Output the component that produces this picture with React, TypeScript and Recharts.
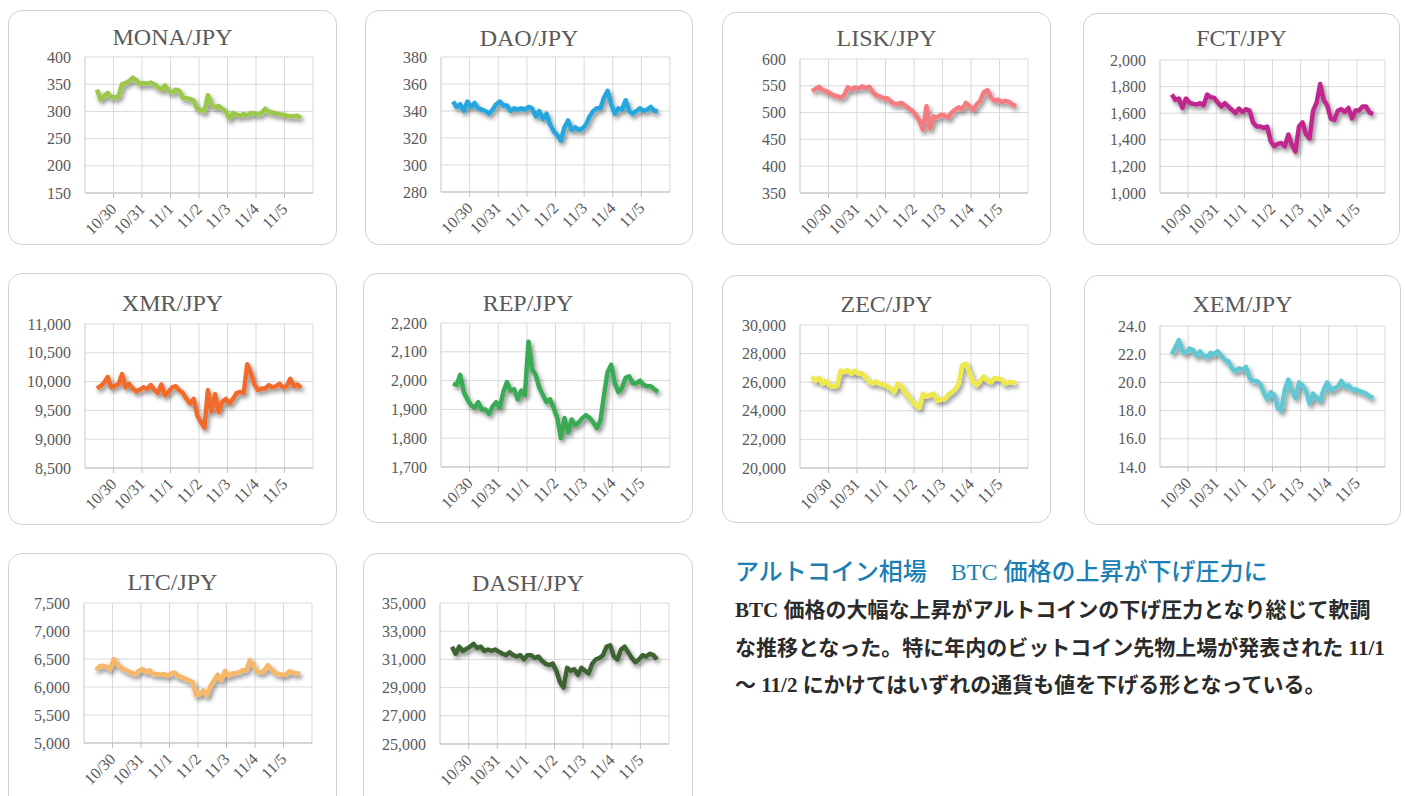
import React from "react";
import { LineChart, Line, XAxis, YAxis, CartesianGrid } from "recharts";

// time axis: days since 10/29 00:00, one sample every ~3h
const T_START = 0.42;
const T_STEP = 0.1256;
const DAY_TICKS = [1, 2, 3, 4, 5, 6, 7];
const DAY_LABELS = ["10/30", "10/31", "11/1", "11/2", "11/3", "11/4", "11/5"];

const MONA = [340, 322, 328, 334, 326, 326, 327, 350, 352, 356, 362, 357, 350, 352, 351, 353, 350, 345, 340, 348, 338, 335, 340, 338, 325, 324, 323, 320, 305, 303, 300, 330, 312, 308, 310, 305, 300, 287, 297, 294, 292, 295, 293, 297, 296, 295, 297, 305, 299, 298, 296, 295, 294, 292, 291, 291, 292, 288];
const DAO = [347, 343, 345, 340, 347, 343, 346, 342, 341, 340, 338, 341, 345, 347, 344, 344, 340, 342, 341, 342, 341, 343, 342, 336, 340, 334, 338, 330, 325, 322, 318, 328, 333, 326, 328, 326, 327, 330, 336, 340, 342, 342, 350, 355, 345, 338, 342, 341, 348, 340, 338, 340, 342, 340, 341, 343, 340, 340];
const LISK = [540, 544, 548, 542, 540, 536, 532, 531, 528, 532, 547, 543, 547, 545, 549, 546, 548, 538, 532, 530, 527, 527, 521, 516, 516, 518, 513, 508, 503, 496, 485, 468, 512, 470, 493, 491, 496, 495, 490, 500, 505, 510, 506, 518, 512, 505, 515, 522, 538, 542, 528, 522, 524, 520, 522, 520, 515, 512];
const FCT = [1740, 1700, 1710, 1640, 1710, 1680, 1670, 1665, 1675, 1660, 1740, 1720, 1715, 1680, 1650, 1675, 1650, 1625, 1600, 1635, 1610, 1630, 1620, 1530, 1500, 1500, 1490, 1500, 1390, 1350, 1370, 1375, 1350, 1440, 1360, 1310, 1500, 1530, 1440, 1410, 1620, 1680, 1820, 1700, 1660, 1560, 1550, 1620, 1630, 1610, 1640, 1560, 1620, 1620, 1650, 1650, 1605, 1595];
const XMR = [9880, 9920, 9980, 10080, 9900, 9930, 9950, 10130, 9900, 9960, 9880, 9830, 9860, 9900, 9870, 9940, 9860, 9800, 9950, 9760, 9820, 9900, 9920, 9850, 9800, 9700, 9620, 9700, 9420, 9300, 9200, 9850, 9480, 9780, 9470, 9650, 9700, 9620, 9700, 9800, 9820, 9800, 10300, 10150, 9950, 9850, 9880, 9880, 9940, 9900, 9920, 9960, 9900, 9920, 10050, 9920, 9950, 9890];
const REP = [1990, 1985, 2020, 1960, 1935, 1915, 1905, 1925, 1900, 1900, 1885, 1910, 1925, 1905, 1960, 1995, 1965, 1970, 1935, 1965, 1950, 2135, 2040, 2020, 1975, 1950, 1925, 1935, 1905, 1870, 1800, 1870, 1820, 1865, 1845, 1855, 1870, 1880, 1870, 1855, 1835, 1860, 1950, 2030, 2055, 1990, 1960, 1975, 2010, 2015, 1990, 1990, 2000, 1985, 1980, 1980, 1970, 1960];
const ZEC = [26400, 26100, 26300, 25900, 26100, 25750, 25700, 25750, 26800, 26700, 26850, 26600, 26800, 26600, 26600, 26350, 26050, 25900, 26050, 25850, 25850, 25700, 25550, 25300, 25900, 25700, 25300, 25000, 24650, 24400, 24200, 25200, 25000, 25100, 25200, 24700, 24800, 24800, 25100, 25300, 25500, 25900, 27200, 27300, 26700, 26000, 25800, 26100, 26400, 26100, 26000, 26300, 26250, 26200, 25900, 26000, 26000, 25900];
const XEM = [22.0, 22.5, 23.0, 22.2, 22.1, 22.4, 22.3, 21.9, 22.2, 21.9, 21.8, 22.1, 22.0, 22.2, 21.9, 21.6, 21.5, 21.0, 20.8, 21.0, 20.9, 21.1, 20.3, 20.1, 20.1, 19.9, 19.3, 18.8, 19.3, 19.1, 18.2, 18.0, 19.5, 20.2, 19.4, 18.9, 20.0, 19.8, 19.4, 18.5, 19.2, 18.9, 18.7, 19.5, 20.0, 19.4, 19.6, 19.7, 20.1, 19.7, 19.8, 19.5, 19.5, 19.4, 19.3, 19.2, 19.0, 18.9];
const LTC = [6300, 6370, 6380, 6360, 6320, 6500, 6400, 6350, 6310, 6280, 6250, 6230, 6290, 6320, 6270, 6300, 6230, 6230, 6220, 6230, 6200, 6240, 6260, 6190, 6180, 6140, 6120, 6090, 5850, 5870, 5940, 5850, 6020, 6120, 6220, 6120, 6290, 6200, 6240, 6250, 6260, 6300, 6300, 6480, 6380, 6280, 6260, 6290, 6390, 6320, 6260, 6230, 6220, 6220, 6280, 6260, 6240, 6240];
const DASH = [31900, 31400, 31900, 31600, 31750, 31900, 32100, 31800, 31900, 31600, 31700, 31600, 31700, 31550, 31400, 31300, 31500, 31300, 31200, 31300, 31000, 31300, 31300, 31100, 31200, 30900, 30700, 30600, 30700, 30200, 29400, 29000, 30400, 30200, 30300, 29900, 30400, 30200, 30000, 30700, 31000, 31100, 31300, 31900, 32000, 31200, 31000, 31700, 31900, 31500, 31100, 30800, 31000, 31300, 31200, 31400, 31300, 31000];

const MONA_TICKS = [150, 200, 250, 300, 350, 400];
const DAO_TICKS = [280, 300, 320, 340, 360, 380];
const LISK_TICKS = [350, 400, 450, 500, 550, 600];
const FCT_TICKS = [1000, 1200, 1400, 1600, 1800, 2000];
const XMR_TICKS = [8500, 9000, 9500, 10000, 10500, 11000];
const REP_TICKS = [1700, 1800, 1900, 2000, 2100, 2200];
const ZEC_TICKS = [20000, 22000, 24000, 26000, 28000, 30000];
const XEM_TICKS = [14, 16, 18, 20, 22, 24];
const LTC_TICKS = [5000, 5500, 6000, 6500, 7000, 7500];
const DASH_TICKS = [25000, 27000, 29000, 31000, 33000, 35000];

const SERIF = "'Liberation Serif', 'Times New Roman', serif";
const JP = "'Liberation Serif', 'Noto Sans CJK JP', serif";
const GRID = "#d9d9d9";
const AXIS = "#bfbfbf";
const TEXT = "#595959";

const PANELS = [
	{ title: "MONA/JPY", values: MONA, ticks: MONA_TICKS, color: "#9bc848", box: [8, 10, 337, 245], plot: [85, 313, 57, 193], titleY: 45 },
	{ title: "DAO/JPY", values: DAO, ticks: DAO_TICKS, color: "#27a6de", box: [365, 10, 693, 245], plot: [441, 670, 57, 192], titleY: 46 },
	{ title: "LISK/JPY", values: LISK, ticks: LISK_TICKS, color: "#f47c80", box: [722, 12, 1051, 245], plot: [800, 1028, 59, 193], titleY: 46 },
	{ title: "FCT/JPY", values: FCT, ticks: FCT_TICKS, color: "#c1288e", box: [1083, 13, 1400, 245], plot: [1160, 1385, 60, 193], titleY: 46 },
	{ title: "XMR/JPY", values: XMR, ticks: XMR_TICKS, color: "#f26a2c", box: [8, 273, 337, 525], plot: [85, 313, 324, 468], titleY: 311 },
	{ title: "REP/JPY", values: REP, ticks: REP_TICKS, color: "#3aaa55", box: [363, 273, 693, 523], plot: [441, 670, 323, 467], titleY: 311 },
	{ title: "ZEC/JPY", values: ZEC, ticks: ZEC_TICKS, color: "#eee94a", box: [722, 275, 1051, 523], plot: [800, 1028, 325, 468], titleY: 312 },
	{ title: "XEM/JPY", values: XEM, ticks: XEM_TICKS, color: "#5ec8d4", box: [1084, 275, 1401, 525], plot: [1160, 1385, 326, 467], titleY: 312, decimals: 1 },
	{ title: "LTC/JPY", values: LTC, ticks: LTC_TICKS, color: "#f7b768", box: [8, 553, 337, 820], plot: [84, 312, 603, 743], titleY: 590 },
	{ title: "DASH/JPY", values: DASH, ticks: DASH_TICKS, color: "#3d6433", box: [363, 553, 693, 820], plot: [440, 669, 603, 744], titleY: 591 },
];

function DayTick({ x, y, payload }: any) {
	return (
		<g transform={`translate(${x + 4},${y + 12})`}>
			<text textAnchor="end"
			      transform="rotate(-45)"
			      fontSize={16}
			      fontFamily={SERIF}
			      fill={TEXT}>
				{DAY_LABELS[payload.value - 1]}
			</text>
		</g>
	);
}

function Panel({ p }: { p: (typeof PANELS)[number] }) {
	const [bl, bt, br, bb] = p.box;
	const [pl, pr, pt, pb] = p.plot;
	const yw = 70;
	const w = yw + (pr - pl) + 10;
	const h = (pb - pt) + 10 + 50;
	const rows = p.values.map((v, i) => ({ t: T_START + i * T_STEP, v }));
	const fmt = (v: number) => (p.decimals ? v.toFixed(p.decimals) : v.toLocaleString("en-US"));

	return (
		<>
			<div style={{
				position: "absolute",
				left: bl,
				top: bt,
				width: br - bl,
				height: bb - bt,
				boxSizing: "border-box",
				border: "1.5px solid #d2d2d2",
				borderRadius: 14,
				background: "#fff",
			}} />
			<div style={{
				position: "absolute",
				left: bl,
				width: br - bl,
				top: p.titleY - 20,
				height: 24,
				lineHeight: "24px",
				textAlign: "center",
				fontFamily: SERIF,
				fontSize: 24,
				color: TEXT,
			}}>
				{p.title}
			</div>
			<div style={{ position: "absolute", left: pl - yw, top: pt - 10 }}>
				<LineChart width={w}
				           height={h}
				           data={rows}
				           margin={{ top: 10, right: 10, left: 0, bottom: 0 }}>
					<CartesianGrid stroke={GRID} />
					<XAxis type="number"
					       dataKey="t"
					       domain={[0, 8]}
					       ticks={DAY_TICKS}
					       interval={0}
					       height={50}
					       tickSize={5}
					       tickMargin={0}
					       axisLine={{ stroke: AXIS }}
					       tickLine={{ stroke: AXIS }}
					       tick={<DayTick />} />
					<YAxis type="number"
					       domain={[p.ticks[0], p.ticks[p.ticks.length - 1]]}
					       ticks={p.ticks}
					       interval={0}
					       width={yw}
					       tickSize={6}
					       tickMargin={8}
					       tickLine={false}
					       axisLine={{ stroke: GRID }}
					       tickFormatter={fmt}
					       tick={{ fontSize: 16, fontFamily: SERIF, fill: TEXT }} />
					<Line dataKey="v"
					      type="linear"
					      stroke={p.color}
					      strokeWidth={4.5}
					      strokeLinejoin="round"
					      dot={false}
					      isAnimationActive={false} />
				</LineChart>
			</div>
		</>
	);
}

export default function App() {
	return (
		<div style={{ position: "absolute", left: 0, top: 0, width: 1405, height: 796, overflow: "hidden", background: "#fff" }}>
			<style>{`.recharts-line-curve { filter: url(#lineShadow); }`}</style>
			<svg width={0} height={0} style={{ position: "absolute" }}>
				<defs>
					<filter id="lineShadow" filterUnits="userSpaceOnUse" x={-50} y={-50} width={1000} height={1000}>
						<feDropShadow dx={2} dy={3} stdDeviation={2} floodColor="#000" floodOpacity={0.45} />
					</filter>
				</defs>
			</svg>

			{PANELS.map((p) => <Panel key={p.title} p={p} />)}

			<div style={{ position: "absolute", left: 735, top: 557, height: 30, lineHeight: "30px", fontFamily: JP, fontSize: 24, fontWeight: 500, color: "#1b7fb5", whiteSpace: "nowrap" }}>
				アルトコイン相場　BTC 価格の上昇が下げ圧力に
			</div>
			<div style={{ position: "absolute", left: 735, top: 592, lineHeight: "37.5px", fontFamily: JP, fontSize: 21, fontWeight: 700, color: "#2b2b2b", whiteSpace: "nowrap" }}>
				<div>BTC 価格の大幅な上昇がアルトコインの下げ圧力となり総じて軟調</div>
				<div>な推移となった。特に年内のビットコイン先物上場が発表された 11/1</div>
				<div>〜 11/2 にかけてはいずれの通貨も値を下げる形となっている。</div>
			</div>
		</div>
	);
}
